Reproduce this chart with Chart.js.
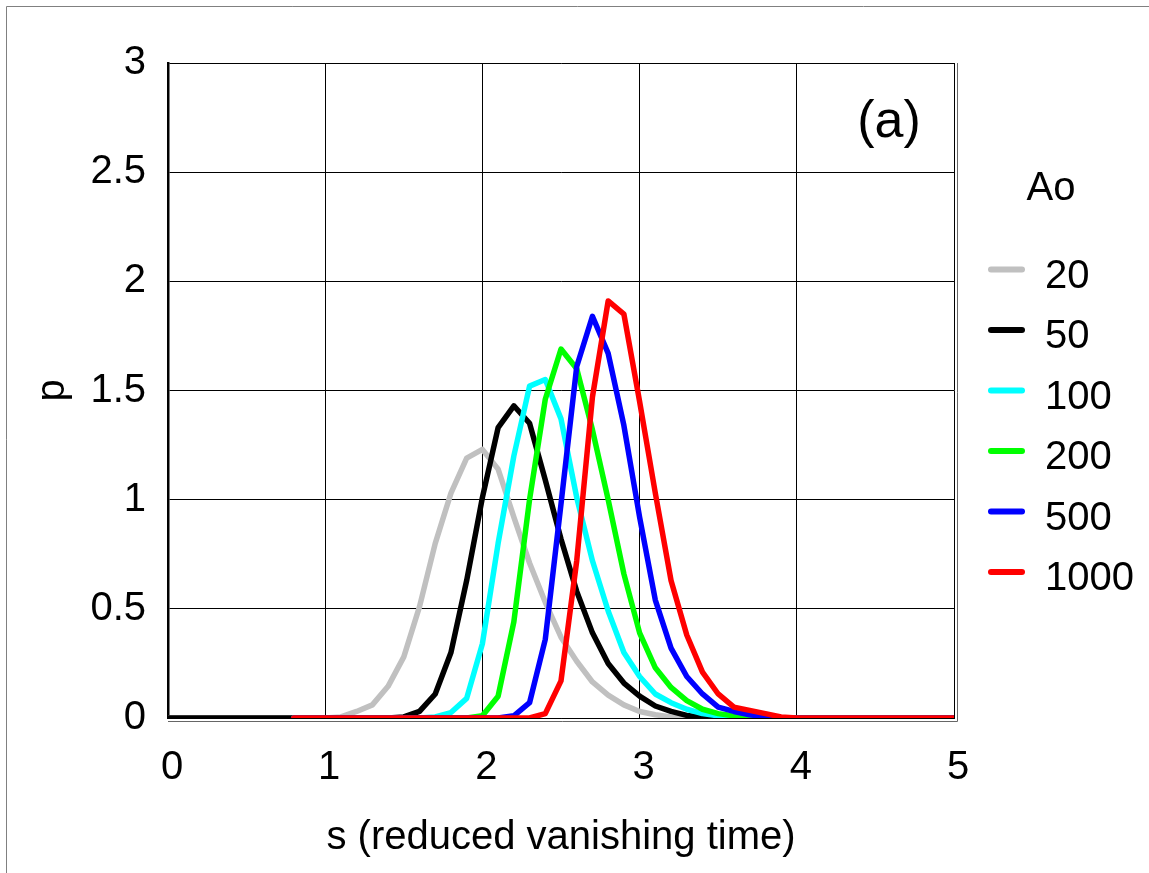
<!DOCTYPE html>
<html>
<head>
<meta charset="utf-8">
<script src="https://cdn.jsdelivr.net/npm/chart.js@4/dist/chart.umd.min.js"></script>
<style>
html,body{margin:0;padding:0;background:#fff;}
#wrap{position:relative;width:1149px;height:873px;}
</style>
</head>
<body>
<div id="wrap"><canvas id="c" width="1149" height="873"></canvas></div>
<script>
// reduced vanishing time grid
const sValues = [0,0.1,0.2,0.3,0.4,0.5,0.6,0.7,0.8,0.9,1,1.1,1.2,1.3,1.4,1.5,1.6,1.7,1.8,1.9,2,2.1,2.2,2.3,2.4,2.5,2.6,2.7,2.8,2.9,3,3.1,3.2,3.3,3.4,3.5,3.6,3.7,3.8,3.9,4,4.1,4.2,4.3,4.4,4.5,4.6,4.7,4.8,4.9,5];

const p_Ao20 = [0,0,0,0,0,0,0,0,0,0,0,
  0.005,0.03,0.06,0.145,0.28,0.51,0.80,1.03,1.19,1.23,1.14,0.92,0.71,0.53,0.37,0.26,0.165,0.105,0.06,0.03,0.015,0.005,
  0,0,0,0,0,0,0,0,0,0,0,0,0,0,0,0,0,0];
const p_Ao50 = [0,0,0,0,0,0,0,0,0,0,0,0,0,0,0,
  0.005,0.03,0.11,0.30,0.63,1.01,1.33,1.43,1.35,1.09,0.82,0.58,0.39,0.25,0.16,0.10,0.055,0.03,0.012,0.004,
  0,0,0,0,0,0,0,0,0,0,0,0,0,0,0,0];
const p_Ao100 = [null,null,null,null,null,null,null,null,
  0,0,0,0,0,0,0,0,0,
  0.005,0.025,0.09,0.34,0.80,1.20,1.52,1.55,1.37,1.01,0.72,0.49,0.30,0.19,0.11,0.07,0.04,0.02,0.01,0.003,
  0,0,0,0,0,0,0,0,0,0,0,0,0,0];
const p_Ao200 = [null,null,null,null,null,null,null,null,
  0,0,0,0,0,0,0,0,0,0,0,0,
  0.01,0.10,0.44,1.00,1.46,1.69,1.60,1.32,1.00,0.66,0.39,0.23,0.14,0.08,0.04,0.02,0.01,0.003,
  0,0,0,0,0,0,0,0,0,0,0,0,0];
const p_Ao500 = [null,null,null,null,null,null,null,null,
  0,0,0,0,0,0,0,0,0,0,0,0,0,0,
  0.01,0.07,0.36,0.98,1.61,1.84,1.67,1.34,0.92,0.54,0.32,0.19,0.11,0.05,0.03,0.015,0.005,
  0,0,0,0,0,0,0,0,0,0,0,0];
const p_Ao1000 = [null,null,null,null,null,null,null,null,
  0,0,0,0,0,0,0,0,0,0,0,0,0,0,0,0,
  0.02,0.17,0.72,1.47,1.91,1.85,1.45,1.03,0.63,0.38,0.21,0.11,0.05,0.035,0.02,0.005,
  0,0,0,0,0,0,0,0,0,0,0];

const seriesNames = ['20','50','100','200','500','1000'];
const seriesValues = [p_Ao20,p_Ao50,p_Ao100,p_Ao200,p_Ao500,p_Ao1000];
const seriesColors = ['#c0c0c0','#000000','#00ffff','#00ff00','#0000ff','#ff0000'];
const xTicks = [0,1,2,3,4,5];
const yTicks = [0,0.5,1,1.5,2,2.5,3];

const FONT = "'Liberation Sans', Arial, Helvetica, sans-serif";
Chart.defaults.font.family = FONT;
Chart.defaults.color = '#000';

const datasets = seriesNames.map((name, k) => ({
  label: name,
  data: sValues.map((s, i) => ({x: s, y: seriesValues[k][i]})),
  borderColor: seriesColors[k],
  backgroundColor: seriesColors[k],
  borderWidth: 5.5,
  pointRadius: 0,
  pointHoverRadius: 0,
  tension: 0,
  fill: false,
  spanGaps: false,
  borderJoinStyle: 'round',
  borderCapStyle: 'round',
  order: seriesNames.length - k
}));

const decor = {
  id: 'decor',
  afterDraw(chart) {
    const ctx = chart.ctx;
    ctx.save();
    // outer frame (top & left visible)
    ctx.strokeStyle = '#808080';
    ctx.lineWidth = 1;
    ctx.beginPath();
    ctx.moveTo(6.5, 873);
    ctx.lineTo(6.5, 6.5);
    ctx.lineTo(1149, 6.5);
    ctx.stroke();
    // plot area outer border (right and bottom)
    const a = chart.chartArea;
    ctx.strokeStyle = '#666';
    ctx.beginPath();
    ctx.moveTo(a.left, a.bottom + 3.5);
    ctx.lineTo(a.right + 3.5, a.bottom + 3.5);
    ctx.lineTo(a.right + 3.5, a.top);
    ctx.stroke();
    // panel label
    ctx.fillStyle = '#000';
    ctx.font = "52px " + FONT;
    ctx.textAlign = 'center';
    ctx.textBaseline = 'alphabetic';
    ctx.fillText('(a)', 889, 137);
    // legend
    ctx.font = "40px " + FONT;
    ctx.fillText('Ao', 1051, 200);
    ctx.textAlign = 'left';
    chart.data.datasets.forEach((ds, i) => {
      const ly = 269.5 + i * 60.5;
      ctx.strokeStyle = ds.borderColor;
      ctx.lineWidth = 6;
      ctx.lineCap = 'round';
      ctx.beginPath();
      ctx.moveTo(991, ly);
      ctx.lineTo(1022, ly);
      ctx.stroke();
      ctx.fillStyle = '#000';
      ctx.fillText(ds.label, 1045, 288 + i * 60.4);
    });
    ctx.restore();
  }
};

new Chart(document.getElementById('c'), {
  type: 'line',
  data: { datasets },
  options: {
    responsive: false,
    devicePixelRatio: 1,
    animation: false,
    layout: { padding: { top: 63, right: 195, bottom: 0, left: 0 } },
    plugins: { legend: { display: false }, tooltip: { enabled: false } },
    scales: {
      x: {
        type: 'linear',
        position: 'bottom',
        min: 0, max: 5,
        afterFit: (s) => { s.height = 155; },
        afterBuildTicks: (s) => { s.ticks = xTicks.map(v => ({value: v})); },
        ticks: { font: { size: 40 }, color: '#000', padding: 26, labelOffset: 4, callback: (v) => String(v) },
        grid: { color: '#000', lineWidth: 1, drawTicks: false },
        border: { display: true, color: '#000', width: 1 },
        title: { display: true, text: 's (reduced vanishing time)', color: '#000', font: { size: 40 }, padding: { top: 0, bottom: 11 } }
      },
      y: {
        type: 'linear',
        position: 'left',
        min: 0, max: 3,
        afterFit: (s) => { s.width = 168; },
        afterBuildTicks: (s) => { s.ticks = yTicks.map(v => ({value: v})); },
        ticks: { font: { size: 40 }, color: '#000', padding: 22, callback: (v) => String(v) },
        grid: { color: '#000', lineWidth: 1, drawTicks: false },
        border: { display: true, color: '#000', width: 2.5 },
        title: { display: true, text: 'p', color: '#000', font: { size: 40 }, padding: { top: 29, bottom: 0 } }
      }
    }
  },
  plugins: [decor]
});
</script>
</body>
</html>
